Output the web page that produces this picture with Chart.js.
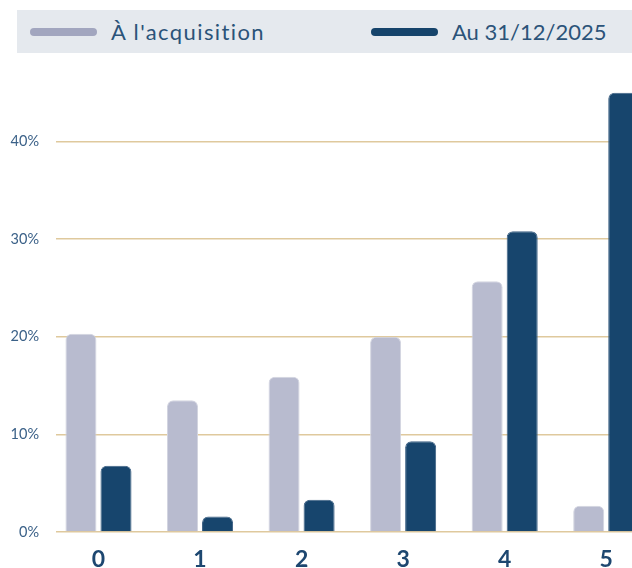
<!DOCTYPE html>
<html>
<head>
<meta charset="utf-8">
<script src="https://cdn.jsdelivr.net/npm/chart.js@4"></script>
<style>
  html, body { margin: 0; padding: 0; width: 632px; height: 568px; overflow: hidden; background: #fff; }
  #legend {
    position: absolute; left: 17px; top: 10px; width: 640px; height: 43px;
    background: #e5e9ee; font-family: Lato, sans-serif; font-size: 22px; color: #2b5379;
  }
  .item { position: absolute; top: 0; height: 43px; display: flex; align-items: center; white-space: nowrap; }
  .mark { width: 67px; height: 8px; border-radius: 4px; margin-right: 14px; }
  #wrap { position: absolute; left: 0; top: 0; width: 657px; height: 568px; }
</style>
</head>
<body>
<div id="wrap"><canvas id="bar_chart"></canvas></div>
<div id="legend"></div>
<script>
const categories = ["0", "1", "2", "3", "4", "5"];
const acquisition = [20.3, 13.5, 15.9, 20.0, 25.7, 2.7];
const current = [6.8, 1.6, 3.3, 9.3, 30.8, 45.0];
const seriesNames = ["À l'acquisition", "Au 31/12/2025"];
const yTicks = [0, 10, 20, 30, 40];

const barColors = ["#b8bbcf", "#17456d"];
const markColors = ["#a2a6bf", "#16446b"];
const gridColor = "#dfc99d";

// legend drawn as html, the chart.js one can't space the items this far apart
const legend = document.getElementById("legend");
const itemLeft = [13, 354];
const itemSpacing = ["1.4px", "0px"];
for (let i = 0; i < seriesNames.length; i++) {
  let item = document.createElement("div");
  item.className = "item";
  item.style.left = itemLeft[i] + "px";
  item.style.letterSpacing = itemSpacing[i];
  let mark = document.createElement("span");
  mark.className = "mark";
  mark.style.background = markColors[i];
  item.appendChild(mark);
  item.appendChild(document.createTextNode(seriesNames[i]));
  legend.appendChild(item);
}

// categories start a bit left of the y gridlines in the original
const shiftX = {
  id: "shiftX",
  afterLayout(chart) {
    let x = chart.scales.x;
    x.left = chart.chartArea.left - 8.3;
    x.configure();
  },
};

const bars = new Chart(document.getElementById("bar_chart").getContext("2d"), {
  type: "bar",
  data: {
    labels: categories,
    datasets: [
      {
        label: seriesNames[0],
        data: acquisition,
        backgroundColor: barColors[0],
        borderColor: "#d3d5e0",
        borderWidth: 1,
        borderRadius: 6,
        borderSkipped: "bottom",
        categoryPercentage: 0.69,
        barPercentage: 0.886,
      },
      {
        label: seriesNames[1],
        data: current,
        backgroundColor: barColors[1],
        borderColor: "#3e6184",
        borderWidth: 1,
        borderRadius: 6,
        borderSkipped: "bottom",
        categoryPercentage: 0.69,
        barPercentage: 0.886,
      },
    ],
  },
  options: {
    responsive: true,
    maintainAspectRatio: false,
    animation: false,
    layout: { padding: { top: 83, left: 0, right: 0, bottom: 0 } },
    plugins: {
      legend: { display: false },
      tooltip: { enabled: false },
    },
    scales: {
      x: {
        grid: { display: false },
        border: { display: false },
        ticks: {
          color: "#1d4770",
          padding: 6,
          font: { family: "Lato", size: 23, weight: "bold" },
        },
        afterFit(scale) {
          scale.height = 36;
        },
      },
      y: {
        min: 0,
        max: 46,
        border: { display: false },
        grid: { color: gridColor, lineWidth: 1.5, drawTicks: false },
        ticks: {
          stepSize: 10,
          padding: 17,
          color: "#3b6188",
          font: { family: "Lato", size: 14.5 },
          callback: (v) => v + "%",
        },
        afterBuildTicks(scale) {
          scale.ticks = yTicks.map((v) => ({ value: v }));
        },
        afterFit(scale) {
          scale.width = 56;
        },
      },
    },
  },
  plugins: [shiftX],
});
</script>
</body>
</html>
